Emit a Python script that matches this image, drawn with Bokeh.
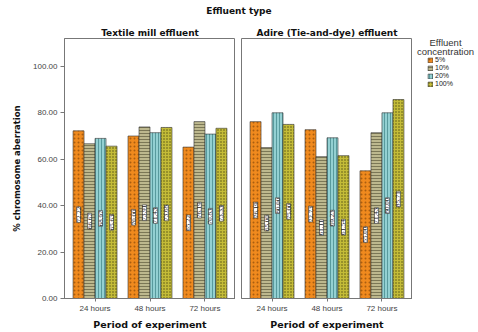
import math
from bokeh.plotting import figure
from bokeh.models import (ColumnDataSource, FactorRange, Range1d, FixedTicker,
                          PrintfTickFormatter, LabelSet, Legend, LegendItem, Label, Div)
from bokeh.layouts import row, column
from bokeh.transform import dodge
from bokeh.embed import file_html
from bokeh.resources import INLINE

# ---------------- data ----------------
hours = ["24 hours", "48 hours", "72 hours"]
concentrations = ["5%", "10%", "20%", "100%"]

textile_5 = [72.22, 70.00, 65.22]
textile_10 = [66.67, 73.91, 76.19]
textile_20 = [68.97, 71.43, 70.83]
textile_100 = [65.63, 73.68, 73.33]

adire_5 = [76.19, 72.73, 55.00]
adire_10 = [65.00, 61.11, 71.43]
adire_20 = [80.00, 69.23, 80.00]
adire_100 = [75.00, 61.54, 85.71]

panel_titles = ["Textile mill effluent", "Adire (Tie-and-dye) effluent"]
y_ticks = [0, 20, 40, 60, 80, 100]

# ---------------- styles ----------------
offsets = [-0.3, -0.1, 0.1, 0.3]
bar_styles = [
    dict(fill_color="#F08A1E", hatch_pattern="dot", hatch_color="#8A4A0A", hatch_scale=4, hatch_alpha=0.7),
    dict(fill_color="#BDB88E", hatch_pattern="horizontal_line", hatch_color="#6A6648", hatch_scale=3, hatch_alpha=0.8),
    dict(fill_color="#93D0D2", hatch_pattern="vertical_line", hatch_color="#4A8C90", hatch_scale=3, hatch_alpha=0.8),
    dict(fill_color="#C4BC38", hatch_pattern="dot", hatch_color="#2E2E08", hatch_scale=3, hatch_alpha=0.75),
]
TITLE_FONT = "DejaVu Sans"
TICK_FONT = "Liberation Sans"
FIG_H = 312
y_range = Range1d(0, 112)


def make_source(series):
    data = {"hour": hours}
    for i, vals in enumerate(series):
        data[f"v{i}"] = vals
        data[f"h{i}"] = [v / 2 for v in vals]
        data[f"t{i}"] = [f"{v:.2f}" for v in vals]
    return ColumnDataSource(data)


def make_panel(title, src, first):
    p = figure(x_range=FactorRange(*hours, range_padding=0.037), y_range=y_range,
               width=235 if first else 177, height=FIG_H,
               output_backend="svg", toolbar_location=None, tools="",
               min_border_left=64 if first else 6, min_border_right=0,
               min_border_top=18, min_border_bottom=33)
    p.title.text = title
    p.title.align = "center"
    p.title.text_font = TITLE_FONT
    p.title.text_font_size = "9px"
    p.title.text_font_style = "bold"
    p.title.standoff = 2
    p.title.text_color = "#111111"

    for i, st in enumerate(bar_styles):
        p.vbar(x=dodge("hour", offsets[i], range=p.x_range), top=f"v{i}", width=0.2,
               source=src, line_color="#333333", line_width=0.6, **st)
        lbl = LabelSet(x=dodge("hour", offsets[i], range=p.x_range), y=f"h{i}", text=f"t{i}",
                       source=src, angle=math.pi / 2, text_align="center", text_baseline="middle",
                       text_font=TICK_FONT, text_font_size="7px", text_color="#222222",
                       background_fill_color="white", border_line_color="#333333",
                       border_line_width=0.6)
        p.add_layout(lbl)

    p.xgrid.visible = False
    p.ygrid.visible = False
    p.outline_line_color = "#777777"
    p.outline_line_width = 1

    p.xaxis.axis_label = "Period of experiment"
    p.xaxis.axis_label_text_font = TITLE_FONT
    p.xaxis.axis_label_text_font_size = "9.5px"
    p.xaxis.axis_label_text_font_style = "bold"
    p.xaxis.axis_label_text_color = "#111111"
    p.xaxis.axis_label_standoff = 3
    p.xaxis.major_label_standoff = 2
    p.xaxis.major_label_text_font = TICK_FONT
    p.xaxis.major_label_text_font_size = "8px"
    p.xaxis.major_label_text_color = "#444444"
    p.xaxis.major_tick_out = 3
    p.xaxis.major_tick_in = 0
    p.xaxis.axis_line_color = "#777777"
    p.xaxis.major_tick_line_color = "#777777"

    if first:
        p.yaxis.axis_label = "% chromosome aberration"
        p.yaxis.axis_label_text_font = TITLE_FONT
        p.yaxis.axis_label_text_font_size = "8.5px"
        p.yaxis.axis_label_text_font_style = "bold"
        p.yaxis.axis_label_text_color = "#111111"
        p.yaxis.axis_label_standoff = 8
        p.yaxis.ticker = FixedTicker(ticks=y_ticks)
        p.yaxis.formatter = PrintfTickFormatter(format="%.2f")
        p.yaxis.major_label_text_font = TICK_FONT
        p.yaxis.major_label_text_font_size = "8px"
        p.yaxis.major_label_text_color = "#444444"
        p.yaxis.major_tick_out = 4
        p.yaxis.major_tick_in = 0
        p.yaxis.minor_tick_line_color = None
        p.yaxis.major_label_standoff = 3
        p.yaxis.axis_line_color = "#777777"
        p.yaxis.major_tick_line_color = "#777777"
    else:
        p.yaxis.visible = False
    return p


src_textile = make_source([textile_5, textile_10, textile_20, textile_100])
src_adire = make_source([adire_5, adire_10, adire_20, adire_100])
p1 = make_panel(panel_titles[0], src_textile, True)
p2 = make_panel(panel_titles[1], src_adire, False)

# legend panel: its own small figure; its bar renderers are hidden and only
# lend their styles to the legend glyphs.
pl = figure(width=66, height=FIG_H, x_range=FactorRange(*hours), y_range=Range1d(1000, 1001),
            x_axis_type=None, y_axis_type=None, output_backend="svg", toolbar_location=None,
            tools="", min_border=0, outline_line_color=None)
pl.xgrid.visible = False
pl.ygrid.visible = False
proxies = [pl.vbar(x=dodge("hour", offsets[i], range=pl.x_range), top=f"v{i}", width=0.2,
                   source=src_adire, line_color="#333333", line_width=0.6, visible=False, **st)
           for i, st in enumerate(bar_styles)]
legend = Legend(items=[LegendItem(label=c, renderers=[r]) for c, r in zip(concentrations, proxies)],
                location=(15, 211), orientation="vertical", click_policy="none",
                label_text_font=TICK_FONT, label_text_font_size="7px", label_text_color="#222222",
                glyph_width=6, glyph_height=6, label_height=6, label_standoff=2, spacing=1,
                padding=0, margin=0, border_line_color=None, background_fill_color=None,
                inactive_fill_alpha=0)
pl.add_layout(legend)
for txt, yy in (("Effluent", 256), ("concentration", 247)):
    pl.add_layout(Label(x=33, y=yy, x_units="screen", y_units="screen", text=txt,
                        text_align="center", text_baseline="middle", text_font=TICK_FONT,
                        text_font_size="9.5px", text_color="#333333"))

header = Div(text="Effluent type", width=478, height=20, margin=(0, 0, 0, 0),
             styles={"text-align": "center", "font-weight": "bold", "font-size": "9px",
                     "font-family": "DejaVu Sans", "line-height": "22px", "color": "#111111"})

layout = column(header, row(p1, p2, pl, spacing=0), spacing=0)
open("out.html", "w").write(file_html(layout, INLINE))
